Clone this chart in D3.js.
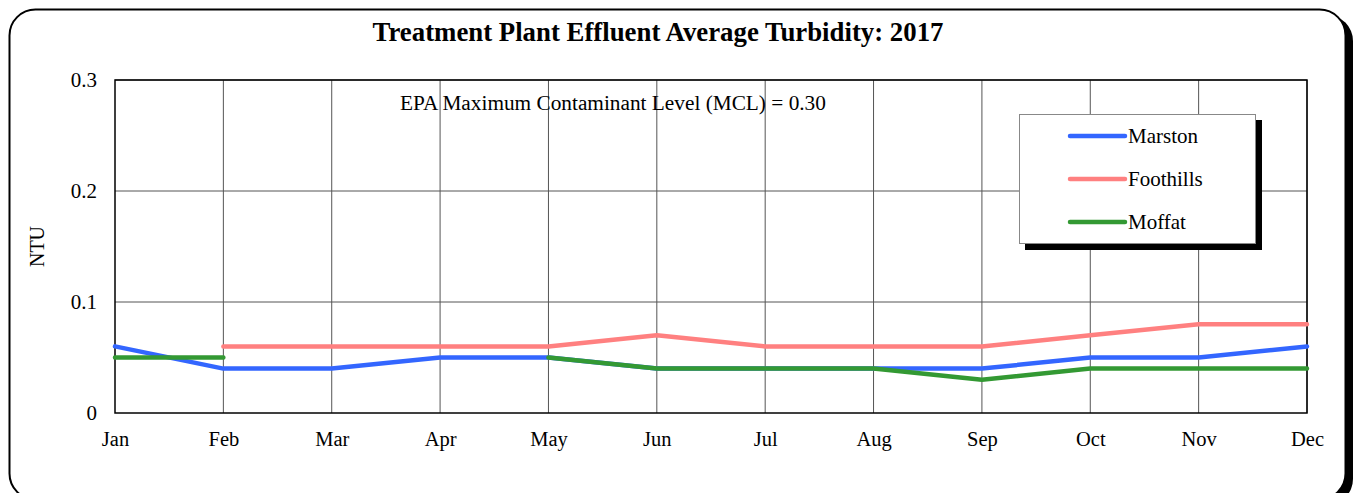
<!DOCTYPE html>
<html>
<head>
<meta charset="utf-8">
<script src="https://cdn.jsdelivr.net/npm/d3@7"></script>
<style>
  body { margin: 0; background: #fff; }
  svg { display: block; font-family: "Liberation Serif", "Times New Roman", serif; }
</style>
</head>
<body>
<div id="chart"></div>
<script>
const months = ["Jan", "Feb", "Mar", "Apr", "May", "Jun", "Jul", "Aug", "Sep", "Oct", "Nov", "Dec"];
const marston = [0.06, 0.04, 0.04, 0.05, 0.05, 0.04, 0.04, 0.04, 0.04, 0.05, 0.05, 0.06];
const foothills = [null, 0.06, 0.06, 0.06, 0.06, 0.07, 0.06, 0.06, 0.06, 0.07, 0.08, 0.08];
const moffat = [0.05, 0.05, null, null, 0.05, 0.04, 0.04, 0.04, 0.03, 0.04, 0.04, 0.04];
const yTicks = [0, 0.1, 0.2, 0.3];

const seriesList = [
    { name: "Marston", values: marston, color: "#3366ff" },
    { name: "Foothills", values: foothills, color: "#ff8080" },
    { name: "Moffat", values: moffat, color: "#339933" }
];

const W = 1357, H = 493;
const margin = { top: 80, right: 50, bottom: 80, left: 115 };
const width = W - margin.left - margin.right;
const height = H - margin.top - margin.bottom;

const svg = d3.select("#chart").append("svg")
    .attr("width", W)
    .attr("height", H);

// outer frame with shadow
svg.append("rect")
    .attr("x", 15).attr("y", 15)
    .attr("width", 1338).attr("height", 490)
    .attr("rx", 26).attr("ry", 26)
    .attr("fill", "#000");
svg.append("rect")
    .attr("x", 9.5).attr("y", 9.5)
    .attr("width", 1336).attr("height", 490)
    .attr("rx", 26).attr("ry", 26)
    .attr("fill", "#fff")
    .attr("stroke", "#000")
    .attr("stroke-width", 2);

svg.append("text")
    .attr("x", 658)
    .attr("y", 41)
    .attr("text-anchor", "middle")
    .style("font-size", "26.8px")
    .style("font-weight", "bold")
    .text("Treatment Plant Effluent Average Turbidity: 2017");

const g = svg.append("g")
    .attr("transform", `translate(${margin.left},${margin.top})`);

const x = d3.scalePoint()
    .domain(months)
    .range([0, width]);

const y = d3.scaleLinear()
    .domain([0, 0.3])
    .range([height, 0]);

// grid
g.selectAll(".vgrid")
    .data(months.slice(1))
    .enter().append("line")
    .attr("x1", d => x(d)).attr("x2", d => x(d))
    .attr("y1", 0).attr("y2", height)
    .attr("stroke", "#555")
    .attr("stroke-width", 1);

g.selectAll(".hgrid")
    .data(yTicks.slice(1))
    .enter().append("line")
    .attr("x1", 0).attr("x2", width)
    .attr("y1", d => y(d)).attr("y2", d => y(d))
    .attr("stroke", "#555")
    .attr("stroke-width", 1);

g.append("rect")
    .attr("x", 0).attr("y", 0)
    .attr("width", width).attr("height", height)
    .attr("fill", "none")
    .attr("stroke", "#000")
    .attr("stroke-width", 1.5);

// axes labels
const yAxis = g.append("g")
    .call(d3.axisLeft(y).tickValues(yTicks).tickSize(0).tickPadding(18).tickFormat(d => d === 0 ? "0" : d3.format(".1f")(d)));
yAxis.select(".domain").remove();
yAxis.selectAll("text")
    .style("font-family", "Liberation Serif, serif")
    .style("font-size", "21px")
    .attr("fill", "#000");

const xAxis = g.append("g")
    .attr("transform", `translate(0,${height})`)
    .call(d3.axisBottom(x).tickSize(0).tickPadding(18));
xAxis.select(".domain").remove();
xAxis.selectAll("text")
    .style("font-family", "Liberation Serif, serif")
    .style("font-size", "20.5px")
    .attr("fill", "#000");

g.append("text")
    .attr("transform", "rotate(-90)")
    .attr("x", -height / 2)
    .attr("y", -71)
    .attr("text-anchor", "middle")
    .style("font-size", "20px")
    .text("NTU");

g.append("text")
    .attr("x", 285)
    .attr("y", 30)
    .style("font-size", "21.3px")
    .text("EPA Maximum Contaminant Level (MCL) = 0.30");

// lines
const line = d3.line()
    .defined(d => d.v !== null)
    .x(d => x(d.m))
    .y(d => y(d.v));

seriesList.forEach(s => {
    g.append("path")
        .datum(months.map((m, i) => ({ m: m, v: s.values[i] })))
        .attr("d", line)
        .attr("fill", "none")
        .attr("stroke", s.color)
        .attr("stroke-width", 4.5)
        .attr("stroke-linecap", "round")
        .attr("stroke-linejoin", "round");
});

// legend
const legend = svg.append("g")
    .attr("transform", "translate(1019,114)");

legend.append("rect")
    .attr("x", 6).attr("y", 6)
    .attr("width", 237).attr("height", 130)
    .attr("fill", "#000");
legend.append("rect")
    .attr("x", 0.5).attr("y", 0.5)
    .attr("width", 236).attr("height", 129)
    .attr("fill", "#fff")
    .attr("stroke", "#888")
    .attr("stroke-width", 1);

const items = legend.selectAll(".item")
    .data(seriesList)
    .enter().append("g")
    .attr("transform", (d, i) => `translate(0, ${22 + i * 43})`);

items.append("line")
    .attr("x1", 51).attr("x2", 106)
    .attr("y1", 0).attr("y2", 0)
    .attr("stroke", d => d.color)
    .attr("stroke-width", 4.5)
    .attr("stroke-linecap", "round");

items.append("text")
    .attr("x", 109)
    .attr("y", 7)
    .style("font-size", "21px")
    .text(d => d.name);
</script>
</body>
</html>
